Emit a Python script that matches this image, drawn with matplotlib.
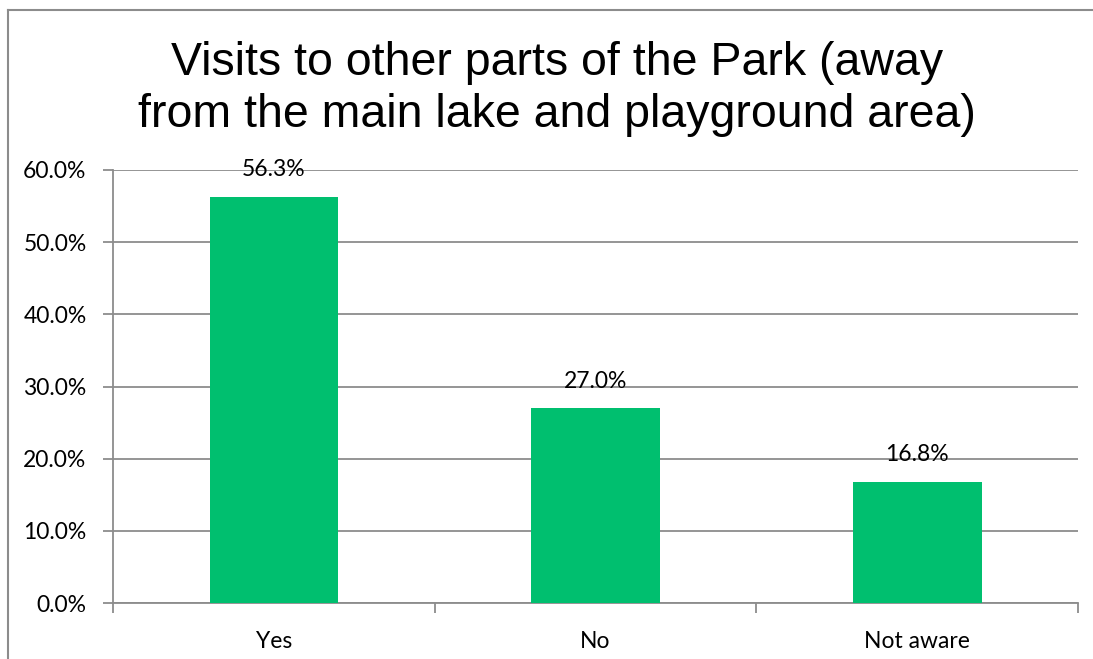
import matplotlib
matplotlib.use("Agg")
import matplotlib.pyplot as plt
from matplotlib.lines import Line2D
from matplotlib.ticker import FuncFormatter, MultipleLocator

categories = ["Yes", "No", "Not aware"]
values = [56.3, 27.0, 16.8]
title_lines = ["Visits to other parts of the Park (away",
               "from the main lake and playground area)"]

W, H = 1093, 659
fig = plt.figure(figsize=(W / 100, H / 100), dpi=100)

# outer chart frame (runs off the right and bottom edges)
frame_kw = dict(color="#8c8c8c", lw=1.5, transform=fig.transFigure)
fig.add_artist(Line2D([8 / W, 1.0], [1 - 10 / H, 1 - 10 / H], **frame_kw))
fig.add_artist(Line2D([8 / W, 8 / W], [0.0, 1 - 10 / H], **frame_kw))

left, right, top, bottom = 113, 1078, 170, 603
ax = fig.add_axes([left / W, 1 - bottom / H, (right - left) / W, (bottom - top) / H])

x = range(len(categories))
ax.bar(x, values, width=0.4, color="#00bf6f", zorder=3)
ax.set_xlim(-0.5, len(categories) - 0.5)
ax.set_ylim(0, 60)

label_font = "Lato"
fs = 16.5
for xi, v in zip(x, values):
    ax.annotate(f"{v:.1f}%", (xi, v), xytext=(0, 19.5), textcoords="offset points",
                ha="center", va="center", fontsize=fs, family=label_font, zorder=4)

ax.yaxis.set_major_locator(MultipleLocator(10))
ax.yaxis.set_major_formatter(FuncFormatter(lambda v, p: f"{v:.1f}%"))
ax.grid(axis="y", color="#8c8c8c", lw=1.3, zorder=0)
ax.set_xticks(list(x))
ax.set_xticklabels(categories)
ax.set_xticks([i - 0.5 for i in range(len(categories) + 1)], minor=True)

for s in ["top", "right"]:
    ax.spines[s].set_visible(False)
for s in ["left", "bottom"]:
    ax.spines[s].set_color("#8c8c8c")
    ax.spines[s].set_linewidth(1.3)

ax.tick_params(axis="y", length=7, width=1.3, color="#8c8c8c", labelsize=fs, pad=12)
ax.tick_params(axis="x", which="major", length=0, labelsize=fs, pad=20)
ax.tick_params(axis="x", which="minor", length=7, width=1.3, color="#8c8c8c")
for lab in ax.get_xticklabels() + ax.get_yticklabels():
    lab.set_family(label_font)

fig.text(557 / W, 1 - 75 / H, title_lines[0], ha="center", va="baseline",
         fontsize=33.5, family="Liberation Sans")
fig.text(557 / W, 1 - 127 / H, title_lines[1], ha="center", va="baseline",
         fontsize=33.5, family="Liberation Sans")

fig.savefig("out.png", dpi=100, facecolor="white")
